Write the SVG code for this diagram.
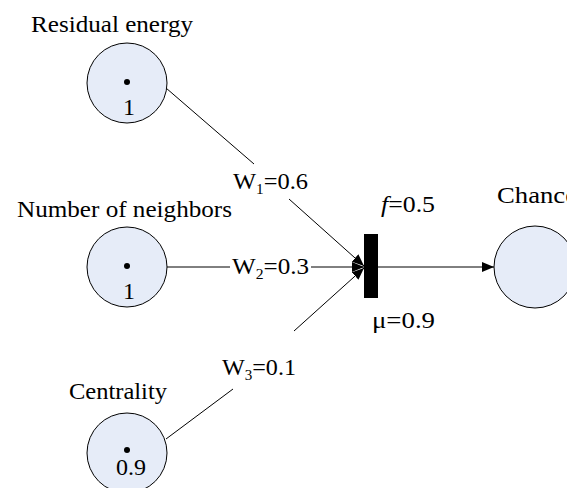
<svg xmlns="http://www.w3.org/2000/svg" width="567" height="488" viewBox="0 0 567 488">
<defs>
<style>
text{font-family:"Liberation Serif","Times New Roman",serif;font-size:24px;fill:#000}
.node{fill:#e6ecf8;stroke:#000;stroke-width:1}
.ln{stroke:#000;stroke-width:1;fill:none}
</style>
<marker id="ah" markerUnits="userSpaceOnUse" markerWidth="12" markerHeight="10" refX="12" refY="5" orient="auto">
<path d="M0,0 L12,5 L0,10 Z" fill="#000"/>
</marker>
</defs>
<rect width="567" height="488" fill="#fff"/>
<g id="connectors">
<line class="ln" x1="166" y1="88" x2="254" y2="164"/>
<line class="ln" x1="289" y1="199" x2="364" y2="266" marker-end="url(#ah)"/>
<line class="ln" x1="167" y1="267" x2="230" y2="267"/>
<line class="ln" x1="311" y1="267" x2="364" y2="267" marker-end="url(#ah)"/>
<line class="ln" x1="166" y1="439" x2="233" y2="389"/>
<line class="ln" x1="294" y1="331" x2="364" y2="268" marker-end="url(#ah)"/>
<line class="ln" x1="378" y1="267" x2="494" y2="267" marker-end="url(#ah)"/>
<text x="233" y="189" textLength="75" lengthAdjust="spacingAndGlyphs">W<tspan font-size="15" dy="5">1</tspan><tspan dy="-5">=0.6</tspan></text>
<text x="232" y="274" textLength="77" lengthAdjust="spacingAndGlyphs">W<tspan font-size="15" dy="5">2</tspan><tspan dy="-5">=0.3</tspan></text>
<text x="222" y="375" textLength="74" lengthAdjust="spacingAndGlyphs">W<tspan font-size="15" dy="5">3</tspan><tspan dy="-5">=0.1</tspan></text>
</g>
<g id="residual">
<circle class="node" cx="127" cy="83" r="40"/>
<circle cx="127" cy="82" r="3" fill="#000"/>
<text x="129" y="115" text-anchor="middle">1</text>
<text x="31" y="32" textLength="162" lengthAdjust="spacingAndGlyphs">Residual energy</text>
</g>
<g id="neighbors">
<circle class="node" cx="127" cy="267" r="40"/>
<circle cx="127" cy="266" r="3" fill="#000"/>
<text x="129" y="299" text-anchor="middle">1</text>
<text x="17" y="217" textLength="215" lengthAdjust="spacingAndGlyphs">Number of neighbors</text>
</g>
<g id="centrality">
<circle class="node" cx="127" cy="453" r="40"/>
<circle cx="127" cy="450" r="3" fill="#000"/>
<text x="116" y="475" textLength="30" lengthAdjust="spacingAndGlyphs">0.9</text>
<text x="69" y="399" textLength="98" lengthAdjust="spacingAndGlyphs">Centrality</text>
</g>
<g id="transition">
<rect x="364" y="234" width="14" height="64" fill="#000"/>
<text x="381" y="212" textLength="54" lengthAdjust="spacingAndGlyphs"><tspan font-style="italic">f</tspan>=0.5</text>
<text x="372" y="328" textLength="63" lengthAdjust="spacingAndGlyphs">μ=0.9</text>
</g>
<g id="chance">
<circle class="node" cx="535" cy="267" r="41"/>
<text x="497" y="203" textLength="80" lengthAdjust="spacingAndGlyphs">Chance</text>
</g>
</svg>
